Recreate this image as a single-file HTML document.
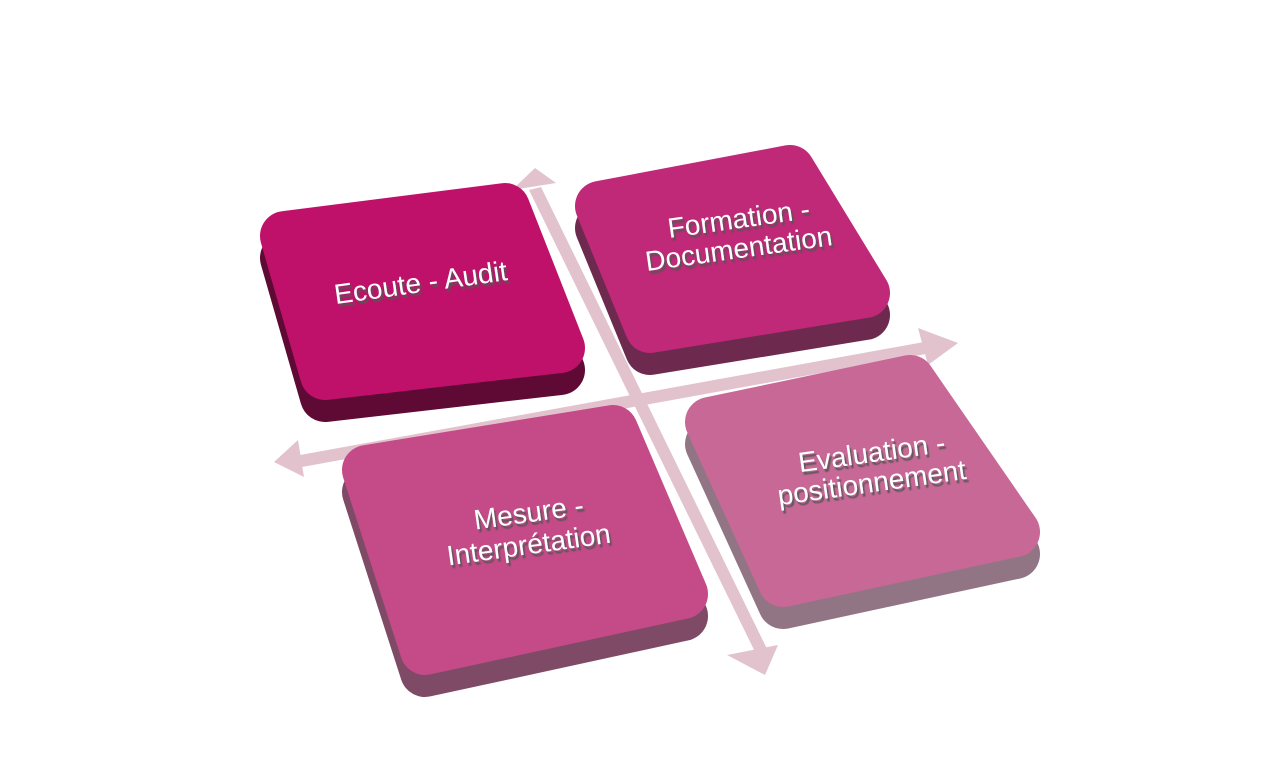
<!DOCTYPE html>
<html><head><meta charset="utf-8"><style>
html,body{margin:0;padding:0;background:#fff;}
svg text{font-family:"Liberation Sans",sans-serif;font-size:28px;fill:#fff;text-anchor:middle;}
</style></head><body>
<svg width="1277" height="764" viewBox="0 0 1277 764">
<defs>
<filter id="ts" x="-10%" y="-10%" width="120%" height="130%"><feDropShadow dx="2" dy="3" stdDeviation="0.6" flood-color="#555" flood-opacity="0.9"/></filter>
</defs>
<g fill="#e2c3cd" stroke="none">
<polygon points="529,190 541,187 770,655 758,658"/>
<polygon points="512,190 535,168 556,183"/>
<polygon points="727,655 778,645 765,675"/>
<polygon points="300,455 935,340 937,352 302,467"/>
<polygon points="298,440 274,462 304,477"/>
<polygon points="918,328 958,343 928,365"/>
</g>
<g stroke-linejoin="round" stroke-width="50">
<polygon points="285,258 505,230 560,370 325,397" fill="#5e0a35" stroke="#5e0a35"/>
<polygon points="285,236 505,208 560,348 325,375" fill="#c0116a" stroke="#c0116a"/>
<polygon points="600,228 790,192 865,315 650,350" fill="#6e2a4e" stroke="#6e2a4e"/>
<polygon points="600,206 790,170 865,293 650,328" fill="#c02878" stroke="#c02878"/>
<polygon points="367,492 613,452 683,616 425,672" fill="#7e4a66" stroke="#7e4a66"/>
<polygon points="367,470 613,430 683,594 425,650" fill="#c44a88" stroke="#c44a88"/>
<polygon points="710,444 910,402 1015,554 783,604" fill="#927585" stroke="#927585"/>
<polygon points="710,422 910,380 1015,532 783,582" fill="#c86897" stroke="#c86897"/>
</g>
<g filter="url(#ts)">
<text transform="translate(422,292) rotate(-8)">Ecoute - Audit</text>
<text transform="translate(740,228) rotate(-8)">Formation -</text>
<text transform="translate(740,258) rotate(-8)">Documentation</text>
<text transform="translate(530,522) rotate(-8)">Mesure -</text>
<text transform="translate(530,554) rotate(-8)">Interprétation</text>
<text transform="translate(873,462) rotate(-8)">Evaluation -</text>
<text transform="translate(873,492) rotate(-8)">positionnement</text>
</g>
</svg>
</body></html>
